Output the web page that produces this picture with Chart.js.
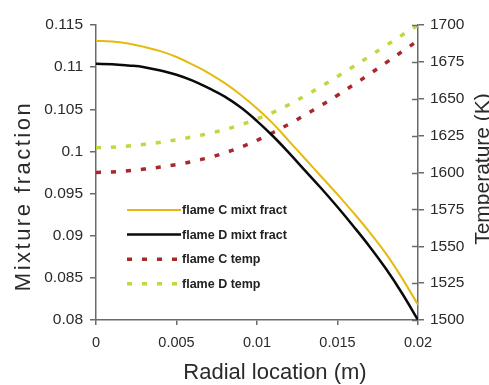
<!DOCTYPE html>
<html>
<head>
<meta charset="utf-8">
<title>Mixture fraction and temperature vs radial location</title>
<script src="https://cdn.jsdelivr.net/npm/chart.js@4/dist/chart.umd.min.js"></script>
<style>
  html, body { margin: 0; padding: 0; background: #ffffff; }
  #wrap { width: 489px; height: 385px; }
  canvas { display: block; }
</style>
</head>
<body>
<div id="wrap"><canvas id="chart" width="489" height="385"></canvas></div>
<script>
// Radial positions (m)
const radialLocation = [0, 0.001, 0.002, 0.003, 0.004, 0.005, 0.006, 0.007, 0.008, 0.009, 0.010,
                        0.011, 0.012, 0.013, 0.014, 0.015, 0.016, 0.017, 0.018, 0.019, 0.020];

// Mixture fraction, flames C and D
const flameCMixt = [0.1131, 0.11305, 0.1128, 0.1124, 0.1119, 0.1112, 0.1103, 0.1093, 0.1081, 0.1067, 0.1051,
                    0.1033, 0.1012, 0.0991, 0.0970, 0.0949, 0.0927, 0.0904, 0.0879, 0.0850, 0.0818];
const flameDMixt = [0.1104, 0.11035, 0.1102, 0.1100, 0.1096, 0.1091, 0.1084, 0.1075, 0.1065, 0.1052, 0.1036,
                    0.1018, 0.0998, 0.0977, 0.0956, 0.0934, 0.0911, 0.0887, 0.0861, 0.0832, 0.0800];

// Temperature (K), flames C and D
const flameCTemp = [1600, 1600.4, 1601.2, 1602.3, 1603.7, 1605.4, 1607.5, 1610.1, 1613.3, 1617.2, 1621.8,
                    1627.1, 1632.9, 1639.1, 1645.6, 1652.4, 1659.5, 1666.8, 1674.3, 1681.9, 1689.5];
const flameDTemp = [1616.8, 1617.2, 1618, 1619.1, 1620.5, 1622.2, 1624.2, 1626.4, 1629.1, 1632.4, 1636.3,
                    1640.8, 1646.1, 1652.1, 1658.5, 1665.1, 1671.9, 1678.9, 1686, 1693, 1699.8];

// Axis tick values
const radialTicks = [0, 0.005, 0.01, 0.015, 0.02];
const mixTicks = [0.08, 0.085, 0.09, 0.095, 0.1, 0.105, 0.11, 0.115];
const tempTicks = [1500, 1525, 1550, 1575, 1600, 1625, 1650, 1675, 1700];

const FONT = "'Liberation Sans', Arial, Helvetica, sans-serif";
const AXIS = '#6a6a6a';
const TEXT = '#2a2a2a';

Chart.defaults.font.family = FONT;
Chart.defaults.color = TEXT;

const toPoints = ys => radialLocation.map((x, i) => ({ x: x, y: ys[i] }));
const fmt = v => String(parseFloat(Number(v).toFixed(4)));
const fixedTicks = list => scale => { scale.ticks = list.map(v => ({ value: v })); };

// Axis titles, right-axis inner tick halves and the in-plot legend
const decorations = {
  id: 'decorations',
  afterDraw(chart) {
    const ctx = chart.ctx;
    const yr = chart.scales.y2;

    // inner half of the right-axis ticks
    ctx.save();
    ctx.strokeStyle = AXIS;
    ctx.lineWidth = 1.5;
    tempTicks.forEach(v => {
      const py = Math.round(yr.getPixelForValue(v)) + 0.5;
      ctx.beginPath();
      ctx.moveTo(yr.left - 6, py);
      ctx.lineTo(yr.left, py);
      ctx.stroke();
    });
    ctx.restore();

    // axis titles
    ctx.save();
    ctx.fillStyle = TEXT;
    ctx.textAlign = 'center';
    ctx.textBaseline = 'alphabetic';

    ctx.font = '22px ' + FONT;
    ctx.fillText('Radial location (m)', 275, 379);

    ctx.save();
    ctx.translate(30, 196);
    ctx.rotate(-Math.PI / 2);
    ctx.font = '22px ' + FONT;
    if ('letterSpacing' in ctx) ctx.letterSpacing = '2.5px';
    ctx.fillText('Mixture fraction', 0, 0);
    ctx.restore();

    ctx.save();
    ctx.translate(489, 169);
    ctx.rotate(-Math.PI / 2);
    ctx.font = '21px ' + FONT;
    ctx.fillText('Temperature (K)', 0, 0);
    ctx.restore();
    ctx.restore();

    // legend inside the plot area
    ctx.save();
    chart.data.datasets.forEach((ds, i) => {
      const y = 210 + i * 24.6;
      ctx.beginPath();
      ctx.strokeStyle = ds.borderColor;
      ctx.lineWidth = ds.borderWidth;
      ctx.setLineDash(ds.borderDash || []);
      ctx.moveTo(127, y);
      ctx.lineTo(181, y);
      ctx.stroke();
      ctx.setLineDash([]);
      ctx.fillStyle = '#222';
      ctx.font = 'bold 12.5px ' + FONT;
      ctx.textAlign = 'left';
      ctx.textBaseline = 'middle';
      ctx.fillText(ds.label, 182, y + 0.5);
    });
    ctx.restore();
  }
};

new Chart(document.getElementById('chart'), {
  type: 'line',
  data: {
    datasets: [
      { label: 'flame C mixt fract', data: toPoints(flameCMixt), yAxisID: 'y',
        borderColor: '#e6b90f', borderWidth: 2, pointRadius: 0, tension: 0.4 },
      { label: 'flame D mixt fract', data: toPoints(flameDMixt), yAxisID: 'y',
        borderColor: '#0a0a0a', borderWidth: 2.5, pointRadius: 0, tension: 0.4 },
      { label: 'flame C temp', data: toPoints(flameCTemp), yAxisID: 'y2',
        borderColor: '#a8282c', borderWidth: 3.5, borderDash: [5, 10], pointRadius: 0, tension: 0.4 },
      { label: 'flame D temp', data: toPoints(flameDTemp), yAxisID: 'y2',
        borderColor: '#c4d63e', borderWidth: 3.5, borderDash: [5, 10], pointRadius: 0, tension: 0.4 }
    ]
  },
  options: {
    responsive: false,
    animation: false,
    devicePixelRatio: 1,
    layout: { padding: { left: 0, right: 0, top: 25, bottom: 0 } },
    plugins: { legend: { display: false }, tooltip: { enabled: false } },
    scales: {
      x: {
        type: 'linear', position: 'bottom', min: 0, max: 0.02,
        afterBuildTicks: fixedTicks(radialTicks),
        afterFit: s => { s.height = 65; },
        border: { display: true, color: AXIS, width: 1.5 },
        grid: { display: true, drawOnChartArea: false, drawTicks: true, tickLength: 5, color: AXIS, lineWidth: 1.5 },
        ticks: { padding: 9, color: TEXT, font: { size: 14.5 }, maxRotation: 0, callback: v => fmt(v) }
      },
      y: {
        type: 'linear', position: 'left', min: 0.08, max: 0.115,
        afterBuildTicks: fixedTicks(mixTicks),
        afterFit: s => { s.width = 96; },
        border: { display: true, color: AXIS, width: 1.5 },
        grid: { display: true, drawOnChartArea: false, drawTicks: true, tickLength: 6, color: AXIS, lineWidth: 1.5 },
        ticks: { padding: 7, color: TEXT, font: { size: 15.5 }, callback: v => fmt(v) }
      },
      y2: {
        type: 'linear', position: 'right', min: 1500, max: 1700,
        afterBuildTicks: fixedTicks(tempTicks),
        afterFit: s => { s.width = 71; },
        border: { display: true, color: AXIS, width: 1.5 },
        grid: { display: true, drawOnChartArea: false, drawTicks: true, tickLength: 6, color: AXIS, lineWidth: 1.5 },
        ticks: { padding: 6, color: TEXT, font: { size: 15.5 }, callback: v => fmt(v) }
      }
    }
  },
  plugins: [decorations]
});
</script>
</body>
</html>
